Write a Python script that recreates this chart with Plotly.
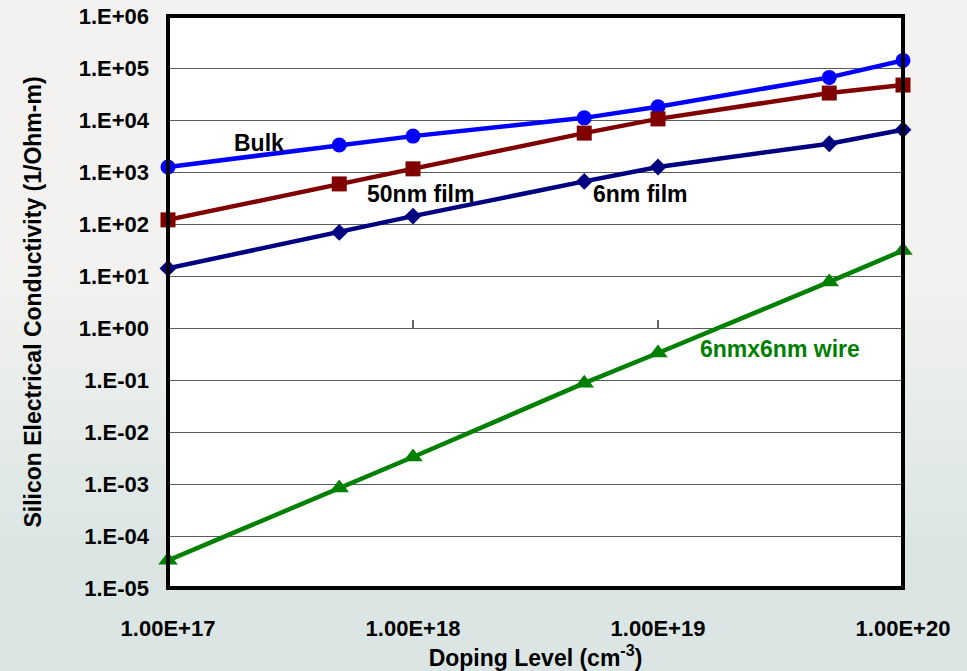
import math
import plotly.graph_objects as go

# Doping levels (cm^-3)
doping = [1e17, 5e17, 1e18, 5e18, 1e19, 5e19, 1e20]

# Conductivity (1/Ohm-m) for each structure
bulk = [1.25e3, 3.3e3, 4.9e3, 1.1e4, 1.8e4, 6.6e4, 1.4e5]
film_50nm = [1.2e2, 5.9e2, 1.15e3, 5.6e3, 1.05e4, 3.3e4, 4.7e4]
film_6nm = [14, 69, 142, 660, 1.25e3, 3.5e3, 6.5e3]
wire_6nm = [3.4e-5, 8.4e-4, 3.3e-3, 0.087, 0.33, 7.7, 31]

x_ticks = [1e17, 1e18, 1e19, 1e20]
x_ticktext = ["1.00E+17", "1.00E+18", "1.00E+19", "1.00E+20"]
y_exponents = list(range(-5, 7))
y_ticks = [10.0 ** e for e in y_exponents]
y_ticktext = [("1.E-%02d" % -e) if e < 0 else ("1.E+%02d" % e) for e in y_exponents]

FONT = "Liberation Sans, Arial, sans-serif"

series = [
    ("Bulk", bulk, "#0000FF", "circle", 15),
    ("50nm film", film_50nm, "#800000", "square", 15),
    ("6nm film", film_6nm, "#000080", "diamond", 13),
    ("6nmx6nm wire", wire_6nm, "#008000", "triangle-up", 17),
]

fig = go.Figure()

for name, vals, color, sym, size in series:
    fig.add_trace(go.Scatter(
        x=doping, y=vals, mode="lines+markers", name=name,
        line=dict(color=color, width=4.5),
        marker=dict(color=color, symbol=sym, size=size, line=dict(width=0)),
        cliponaxis=False, showlegend=False,
    ))

# small tick marks where the doping axis crosses at 1
tick_x, tick_y = [], []
for t in x_ticks[1:-1]:
    tick_x += [t, t, None]
    tick_y += [1, 10 ** 0.155, None]
fig.add_trace(go.Scatter(x=tick_x, y=tick_y, mode="lines",
                         line=dict(color="black", width=1.2),
                         hoverinfo="skip", showlegend=False))

# series labels (annotation positions on log axes are given in decades)
labels = [
    ("Bulk", 2.35e17, 3.6e3, "black"),
    ("50nm film", 1.07e18, 3.8e2, "black"),
    ("6nm film", 8.5e18, 3.8e2, "black"),
    ("6nmx6nm wire", 3.16e19, 0.40, "#008000"),
]
for text, lx, ly, c in labels:
    fig.add_annotation(x=math.log10(lx), y=math.log10(ly), xref="x", yref="y",
                       text="<b>%s</b>" % text, showarrow=False,
                       font=dict(family=FONT, size=23, color=c))

# soft tinted background bands, then the white plotting area on top of them
shapes = []
n_bands = 12
for i in range(n_bands):
    shapes.append(dict(type="rect", xref="paper", yref="paper",
                       x0=-0.25, x1=1.1, y0=-0.2, y1=0.55 - i / n_bands * 0.5,
                       fillcolor="rgba(180,220,230,0.025)", line=dict(width=0),
                       layer="below"))
shapes.append(dict(type="rect", xref="x domain", yref="y domain",
                   x0=0, x1=1, y0=0, y1=1, fillcolor="white",
                   line=dict(width=0), layer="below"))
shapes.append(dict(type="rect", xref="x domain", yref="y domain",
                   x0=0, x1=1, y0=0, y1=1, fillcolor="rgba(0,0,0,0)",
                   line=dict(color="black", width=4), layer="above"))

fig.update_layout(
    width=967, height=671,
    margin=dict(l=168, r=64, t=16, b=83),
    paper_bgcolor="#f3f2f0",
    plot_bgcolor="white",
    font=dict(family=FONT, color="black"),
    shapes=shapes,
    xaxis=dict(
        type="log", range=[17, 20], automargin=False,
        tickvals=x_ticks, ticktext=["<b>%s</b>" % t for t in x_ticktext],
        tickfont=dict(family=FONT, size=22, color="black"),
        ticks="", showgrid=False, zeroline=False, showline=False,
        ticklabelstandoff=25,
        title=dict(text="<b>Doping Level (cm<sup>-3</sup>)</b>",
                   font=dict(family=FONT, size=23, color="black"), standoff=6),
    ),
    yaxis=dict(
        type="log", range=[-5, 6], automargin=False,
        tickvals=y_ticks, ticktext=["<b>%s</b>" % t for t in y_ticktext],
        tickfont=dict(family=FONT, size=22, color="black"),
        ticks="", showgrid=True, gridcolor="#5a5a5a", gridwidth=1,
        zeroline=False, showline=False,
        ticklabelstandoff=18,
        title=dict(text="<b>Silicon Electrical Conductivity (1/Ohm-m)</b>",
                   font=dict(family=FONT, size=23, color="black"), standoff=30),
    ),
)

fig.write_html("out.html")
